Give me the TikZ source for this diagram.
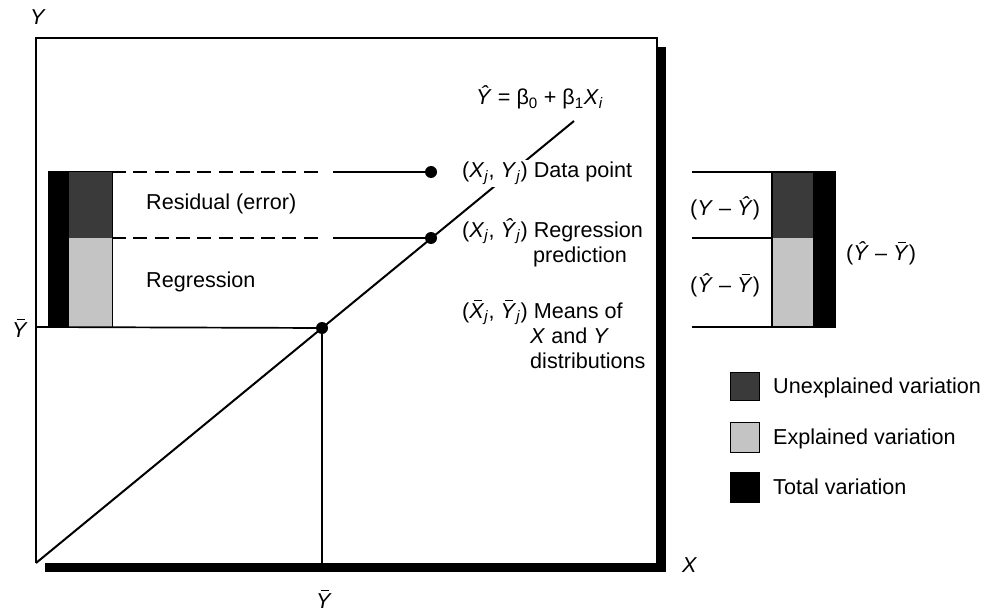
\documentclass[tikz,border=0pt]{standalone}
\usepackage{fontspec}
\setmainfont{Liberation Sans}
\newcommand\vY{\textit{Y}}
\newcommand\vX{\textit{X}}
\newcommand\hY{\textit{\^{Y}}}
\newcommand\bY{\leavevmode\rlap{\hspace{0.22em}\raisebox{0.8em}{\rule{0.36em}{0.05em}}}\textit{Y}}
\newcommand\bX{\leavevmode\rlap{\hspace{0.22em}\raisebox{0.8em}{\rule{0.36em}{0.05em}}}\textit{X}}
\newcommand\sj{\textsubscript{\textit{j}}}
\begin{document}
\begin{tikzpicture}[x=1pt,y=-1pt,
  every node/.style={font=\fontsize{21.6}{25}\selectfont, inner sep=0pt},
  lbl/.style={anchor=base west},
  thinline/.style={line width=1.7pt},
  dashline/.style={line width=1.7pt, dash pattern=on 14pt off 7.3pt},
  darkfill/.style={fill={rgb,255:red,58;green,58;blue,58}},
  lightfill/.style={fill={rgb,255:red,196;green,196;blue,196}},
  dot/.style={circle, fill=black, minimum size=12pt, inner sep=0pt}]
\useasboundingbox (0,0) rectangle (984,612);
% frame with shadow
\fill (657,47) rectangle (666,572);
\fill (45,563) rectangle (666,572);
\draw[thinline] (36,563) -- (36,38) -- (657,38) -- (657,563);
% left bar
\fill (48,172) rectangle (69,327);
\fill[darkfill] (69,172) rectangle (112,238);
\fill[lightfill] (69,238) rectangle (112,327);
\draw[line width=1pt] (48,172) rectangle (112,327);
% points
\coordinate (O) at (36,563);
\coordinate (E) at (574,121);
\node[dot] (mean) at (322,328) {};
\node[dot] (pred) at (431,238) {};
\node[dot] (data) at (431,172) {};
\coordinate (d0) at (112,172);
\coordinate (d1) at (318,172);
\coordinate (d2) at (333,172);
\coordinate (p0) at (112,238);
\coordinate (p1) at (318,238);
\coordinate (p2) at (333,238);
\coordinate (ybl) at (36,327);
\coordinate (xbb) at (322,563);
% regression line
\draw[line width=2pt] (O) -- (E);
% dashed lines
\draw[dashline] (d0) -- (d1);
\draw[thinline] (d2) -- (data.center);
\draw[dashline] (p0) -- (p1);
\draw[thinline] (p2) -- (pred.center);
% mean lines
\draw[thinline] (ybl) -- (mean.center) -- (xbb);
% labels inside
\node[lbl] (eq) at (476,105) {\hY{} = β\textsubscript{0} + β\textsubscript{1}\vX\textsubscript{\textit{i}}};
\node[lbl, fill=white, inner sep=2pt] (ldata) at (460,178) {(\vX\sj, \vY\sj) Data point};
\node[lbl] (lpred) at (462,237) {(\vX\sj, \hY\sj) Regression};
\node[lbl] (lpred2) at (533,262) {prediction};
\node[lbl] (lmean) at (462,318) {(\bX\sj, \bY\sj) Means of};
\node[lbl] (lmean2) at (530,343) {\vX{} and \vY};
\node[lbl] (lmean3) at (530,368) {distributions};
\node[lbl] (res) at (146,210) {Residual (error)};
\node[lbl] (reg) at (146,287) {Regression};
% axis labels
\node[lbl] (ylab) at (30,25) {\vY};
\node[lbl] (ybar) at (12,337) {\bY};
\node[lbl] (xlab) at (682,572) {\vX};
\node[lbl] (xbar) at (316,608) {\bY};
% right bar
\fill[darkfill] (772,172) rectangle (813,238);
\fill[lightfill] (772,238) rectangle (813,327);
\fill (813,172) rectangle (836,327);
\coordinate (r1) at (692,172);
\coordinate (r2) at (836,172);
\coordinate (r3) at (692,238);
\coordinate (r4) at (772,238);
\coordinate (r5) at (692,327);
\coordinate (r6) at (836,327);
\coordinate (r7) at (772,172);
\coordinate (r8) at (772,327);
\draw[thinline] (r1) -- (r2);
\draw[thinline] (r3) -- (r4);
\draw[thinline] (r5) -- (r6);
\draw[thinline] (r7) -- (r8);
\node[lbl] (rl1) at (690,215) {(\vY{} – \hY)};
\node[lbl] (rl2) at (690,292) {(\hY{} – \bY)};
\node[lbl] (rl3) at (846,260) {(\hY{} – \bY)};
% legend
\draw[darkfill, line width=1pt] (730,372) rectangle (759,400);
\draw[lightfill, line width=1pt] (730,422) rectangle (759,452);
\draw[fill=black, line width=1pt] (730,472) rectangle (759,502);
\node[lbl] (lg1) at (773,393) {Unexplained variation};
\node[lbl] (lg2) at (773,444) {Explained variation};
\node[lbl] (lg3) at (773,494) {Total variation};
\end{tikzpicture}
\end{document}
